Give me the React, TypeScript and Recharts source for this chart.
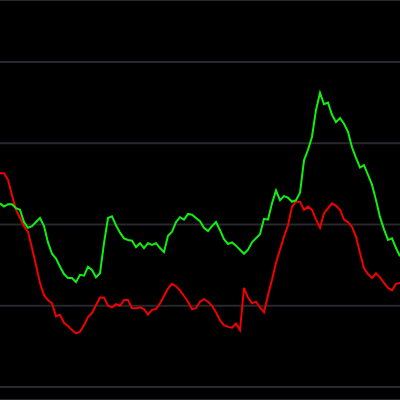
import { LineChart, Line, XAxis, YAxis, CartesianGrid } from "recharts"

// x positions are just sample indices, evenly spaced across the plot
const redValues = [
  26.3, 26.3, 25.5, 23.6, 21.8, 20.8, 19.8, 19.1, 17.1, 15.0,
  12.8, 11.3, 10.7, 10.3, 8.7, 8.9, 7.9, 7.5, 7.0, 6.6,
  6.8, 7.6, 8.6, 9.1, 10.1, 11.0, 11.0, 10.0, 9.8, 10.2,
  10.0, 10.7, 10.7, 9.7, 9.7, 9.8, 9.6, 8.9, 9.5, 9.6,
  10.3, 11.2, 12.1, 12.7, 12.4, 11.9, 11.2, 10.5, 9.6, 9.7,
  10.5, 10.8, 10.5, 10.0, 9.2, 8.2, 7.6, 7.4, 7.3, 7.8,
  7.0, 12.2, 11.0, 10.3, 10.5, 9.8, 9.2, 11.3, 13.2, 15.3,
  16.9, 18.5, 19.9, 22.2, 22.8, 22.8, 21.8, 22.2, 21.8, 20.6,
  19.6, 21.4, 22.0, 22.6, 22.3, 21.8, 20.6, 20.3, 19.7, 18.5,
  16.5, 14.6, 13.9, 13.4, 14.0, 13.5, 12.8, 12.2, 11.9, 12.7,
  12.8,
]

const greenValues = [
  22.6, 22.2, 22.5, 22.5, 22.0, 21.8, 20.3, 19.6, 19.8, 20.3,
  20.8, 19.8, 17.8, 16.4, 15.8, 14.8, 13.9, 13.4, 13.4, 12.9,
  13.8, 13.7, 14.8, 14.4, 13.5, 14.0, 17.7, 20.8, 21.0, 19.9,
  19.0, 18.3, 18.1, 18.0, 17.2, 17.7, 17.1, 17.7, 17.5, 17.7,
  17.1, 16.6, 18.6, 19.1, 20.3, 20.9, 20.6, 21.3, 21.2, 20.8,
  20.4, 19.6, 19.2, 19.8, 20.3, 19.3, 18.2, 17.6, 17.8, 17.4,
  16.9, 16.4, 16.9, 17.8, 18.3, 18.8, 20.7, 20.6, 22.6, 24.2,
  23.0, 23.5, 23.3, 22.8, 23.0, 23.9, 27.9, 29.2, 30.8, 34.1,
  36.2, 34.8, 35.0, 33.5, 32.6, 33.1, 32.4, 31.4, 29.5, 28.2,
  27.0, 27.3, 26.1, 24.9, 23.0, 20.9, 19.4, 18.1, 18.3, 17.1,
  16.1,
]

const gridTicks = [0, 10, 20, 30, 40]

const data = redValues.map((r, i) => ({ i, red: r, green: greenValues[i] }))

export default function App() {
  return (
    <div style={{ position: "fixed", left: 0, top: 0, width: 400, height: 400, background: "#000" }}>
      <LineChart width={400} height={400} data={data} margin={{ top: 0, right: 0, left: 0, bottom: 0 }}>
        <CartesianGrid stroke="#28282d" strokeWidth={2} vertical={false} />
        <XAxis dataKey="i" type="number" domain={[0, redValues.length - 1]} hide />
        <YAxis hide domain={[-1.6, 47.63]} ticks={gridTicks} allowDataOverflow />
        <Line
          dataKey="red"
          type="linear"
          stroke="#f00000"
          strokeWidth={2}
          dot={false}
          activeDot={false}
          isAnimationActive={false}
        />
        <Line
          dataKey="green"
          type="linear"
          stroke="#10f010"
          strokeWidth={2}
          dot={false}
          activeDot={false}
          isAnimationActive={false}
        />
      </LineChart>
    </div>
  )
}
